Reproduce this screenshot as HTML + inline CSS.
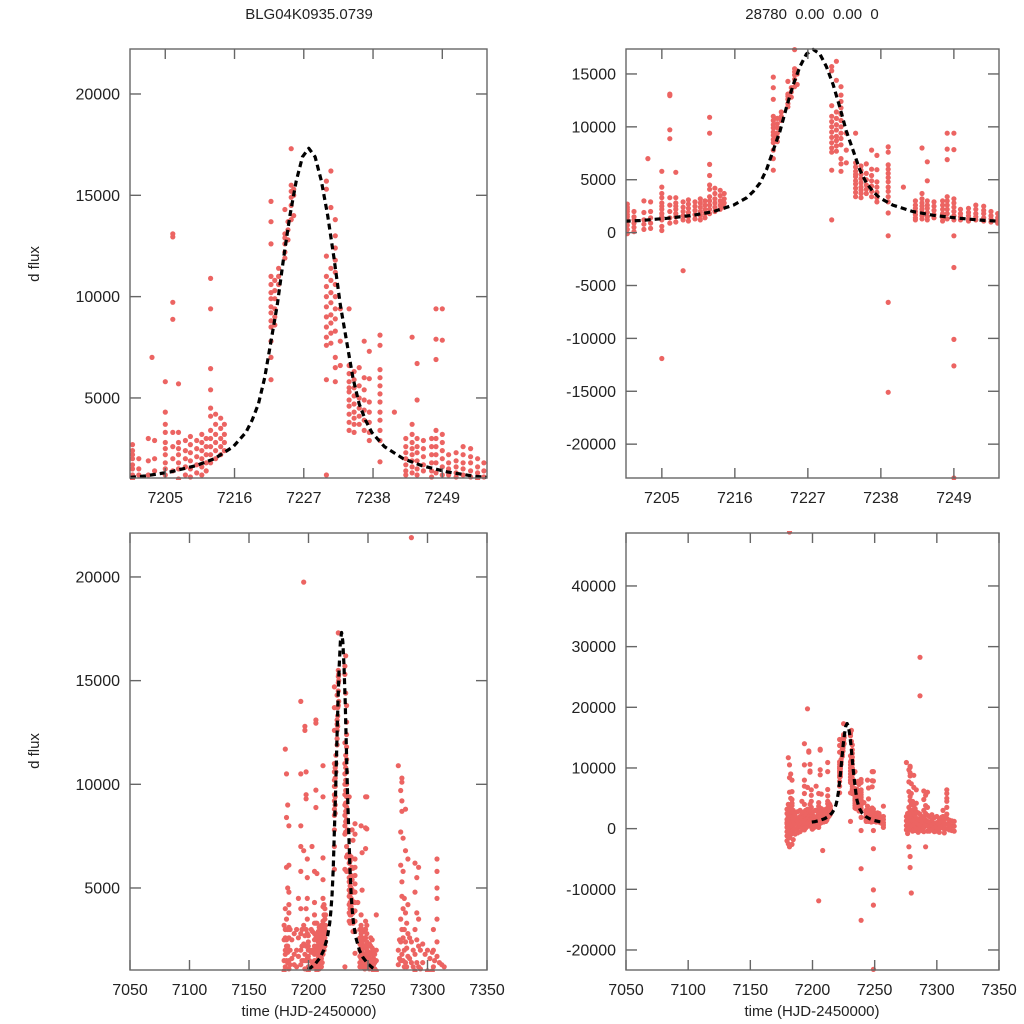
<!DOCTYPE html>
<html><head><meta charset="utf-8"><title>BLG04K0935.0739 light curve</title>
<style>
html,body{margin:0;padding:0;background:#fff;width:1024px;height:1024px;overflow:hidden;}
svg{display:block;font-family:"Liberation Sans",sans-serif;}
</style></head>
<body>
<svg id="fig" width="1024" height="1024" viewBox="0 0 1024 1024" xmlns="http://www.w3.org/2000/svg">
<rect width="1024" height="1024" fill="#fff"/>
<text x="309" y="19" font-size="15" text-anchor="middle" fill="#222">BLG04K0935.0739</text>
<text x="812" y="19" font-size="15" text-anchor="middle" fill="#222" xml:space="preserve">28780  0.00  0.00  0</text>
<text x="0" y="0" font-size="15" text-anchor="middle" fill="#222" transform="translate(39,264) rotate(-90)">d flux</text>
<text x="0" y="0" font-size="15" text-anchor="middle" fill="#222" transform="translate(39,751) rotate(-90)">d flux</text>
<text x="309" y="1016" font-size="15" text-anchor="middle" fill="#222">time (HJD-2450000)</text>
<text x="812" y="1016" font-size="15" text-anchor="middle" fill="#222">time (HJD-2450000)</text>
</svg>
<script>
// ---- observation data: one entry per night (time) with its flux measurements ----
const nightTimes = [7179.5,7180.5,7181.5,7182.5,7183.5,7184.5,7186,7188,7190,7191.5,7193.5,7194.5,7196,7197,7198,7199,
7199.8,7200.8,7202.3,7202.9,7203.3,7205.0,7206.2,7207.1,7208.2,7209,7210,7210.8,7211.5,7212.2,7213,7213.8,7214.4,
7221.8,7222.4,7223,7224,7224.5,7225,7225.4,7230.6,7231.3,7232.0,7232.8,7234.2,7235,7235.8,7236.6,7237.4,7239.1,7241.4,
7243.2,7244.2,7245,7246,7247.3,7248.0,7249.0,7250,7251.2,7252.3,7253.5,7254.6,7255.6,7257,
7275.5,7276.5,7277.5,7278.5,7279.5,7280.5,7281.5,7282.5,7283.5,7285,7286.5,7288,7289.5,7291,7292.5,7294,7296,7298,7300,7302,7304,7305,7306,7308,7310,7312,7314];
const nightFluxes = [
[2500,1500,800,200,-500,-1200,-2000,3200,1000],
[11700,4000,3000,2000,1200,500,-300,-1000,-2500,1800,2600],
[48900,10500,8400,6000,3500,2500,1500,800,0,-800,-1500,-3000,2200],
[9000,5000,3000,2200,1400,600,-200,-1000,1900],
[8000,6100,4800,4200,3800,3100,2600,2000,1500,1100,400,-400,-2600],
[3000,2000,1300,600,-300,-1800],
[2500,1600,800,0,-900],
[2800,1800,900,100,-700,1300],
[3000,2000,1200,400,-500],
[4500,2600,1700,900,200],
[14000,10500,8000,7000,5800,4000,2800,2000,1300,600,-200],
[3000,2200,1500,800,100],
[19750,6800,3200,2300,1500,900],
[12800,12600,2700,1800,1100,400],
[10600,9500,9300,4000,3000,2200,1500,900],
[6400,5500,4500,3500,2800,2200,1600,1100,600],
[2700,2400,2000,1700,1500,1200,1000,700,300,-100,2200],
[2000,1500,1200,900,500,100],
[3000,1900,1200,800,300],
[7000],
[2900,2000,1400,900,400],
[5800,4300,3700,3300,2800,2500,2200,1800,1500,1200,600,200,-11900],
[13100,12950,9720,8880,3300,2600,2000,1400,900],
[5700,3300,2800,2500,2200,1800,1500,1000],
[2900,2400,2000,1600,1200,-3600],
[3100,2700,2300,1900,1500,1100],
[2900,2500,2100,1700,1300],
[3200,2800,2400,2000,1600,1200],
[3000,2600,2200,1800,1400],
[10900,9400,6450,5400,4500,4100,3400,3000,2600,2200,1800],
[4200,3700,3200,2800,2400,2000],
[4000,3500,3000,2600,2200],
[3700,3200,2800,2400],
[14700,13700,12600,11000,10600,10200,9900,9500,9200,8800,8500,7800,7000,5900],
[10800,10300,9900,9400,9000,8600],
[11400,11000,10600],
[14300,13100,12900,12600,12200,11900],
[13700,13300,12800],
[17300,15500,15200,14900,14500,13800],
[15300,15000,14000],
[15700,15300,12000,11000,10500,10000,9500,9000,8500,8000,7600,5900,1200],
[16200,14400,11400,10800,10200,9700,9100,8700,8200,7700],
[13800,13000,12400,11800,11200,10600,10000,9400,8900,8300,7000,6500,5800],
[9400,7800,6600],
[9400,6600,6200,5800,5500,5300,4900,4600,4200,3800,3400],
[6300,5900,5500,5100,4700,4300,4000,3700,3300],
[6500,5600,5000,4500,4100,3700],
[7800,6000,5400,4900,4400,3900,3400],
[7300,5950,4800,4300,3800,3300,2900],
[8100,7600,6400,6000,5600,5200,4800,4300,3900,3400,2900,1850,-300,-6600,-15100],
[4300],
[3000,2600,2300,2000,1700,1400,1200],
[8000,3700,3200,2800,2500,2200,1900,1600,1300],
[6700,4900,3000,2600,2300,1900,1500,1200],
[2900,2500,2100,1700,1400],
[3000,2600,2200,1800,1400,1100],
[9400,7900,6900,3400,3000,2600,2200,1800,1300],
[9400,7850,3200,2800,2400,2000,1600,1200,-300,-3300,-10100,-12600,-23200],
[2200,1800,1500,1200],
[2300,1900,1600,1300,1100],
[2600,2200,1800,1500,1200],
[2500,2100,1800,1400,1100],
[2000,1600,1300,1000],
[1800,1400,1100,900],
[3700,2000,1500,1000,600,200],
[10900,2000,1300,500,-200],
[2500,1600,800,0,-800],
[9700,7700,6100,3500,2400,1500,700,-100,-3000],
[10300,10100,9200,8700,5300,4600,3000,1800,900,100,-4600,-6400],
[7400,5800,4000,2600,1500,700,-200,-10600],
[4500,3000,2000,1200,400,-400],
[8800,6800,3800,2400,1400,600,-200],
[3300,2100,1200,400,-300],
[6400,4200,2800,1700,900,100],
[2600,1600,800,0,-600],
[28250,21900,2400,1400,600,-200],
[2000,1200,500,-300],
[6200,4800,3000,1800,1000,200,-500],
[5500,3800,2500,1400,600,-3000],
[6000,3500,2200,1200,400,-400],
[2000,1100,300,-400],
[2300,1400,600,-200],
[1800,900,100,-500],
[2000,1000,300,-400],
[1600,800,0,-600],
[1900,1000,200],
[3000,2000,1200],
[1500,700,-100,-700],
[6400,5800,5000,4500,3500,2400,1700,800,0],
[1400,600,-200],
[1300,500,-300],
[1200,400,-400]
];
// ---- fitted model curve ----
const modelTimes = [7199.4,7201.8,7205.8,7209.8,7212.8,7215.8,7217.8,7218.8,7219.8,7220.8,7221.8,7222.8,7223.8,7224.8,7225.8,7226.8,7227.8,7228.8,7229.8,7230.8,7231.8,7232.8,7233.8,7234.8,7235.8,7236.8,7237.8,7239.8,7242.8,7245.8,7249.8,7253.8,7256.0];
const modelFlux  = [1080,1150,1350,1650,2000,2600,3300,3900,4700,6000,7800,9600,11900,14000,15700,16900,17320,16900,15700,14000,11900,9600,7800,6000,4700,3900,3300,2600,2000,1650,1350,1150,1080];
// ---- axis ticks ----
const xTicksZoom = [7205,7216,7227,7238,7249];
const xTicksFull = [7050,7100,7150,7200,7250,7300,7350];
const yTicksTL = [5000,10000,15000,20000];
const yTicksTR = [-20000,-15000,-10000,-5000,0,5000,10000,15000];
const yTicksBL = [5000,10000,15000,20000];
const yTicksBR = [-20000,-10000,0,10000,20000,30000,40000];

const panels = [
 {name:'top-left', x0:130,x1:487,y0:49,y1:478, xmin:7199.4,xmax:7256.1, ymin:1050,ymax:22220, xt:xTicksZoom, yt:yTicksTL},
 {name:'top-right', x0:626,x1:999,y0:49,y1:478, xmin:7199.6,xmax:7255.8, ymin:-23200,ymax:17360, xt:xTicksZoom, yt:yTicksTR},
 {name:'bottom-left', x0:130,x1:487,y0:533,y1:970, xmin:7050,xmax:7350, ymin:1045,ymax:22120, xt:xTicksFull, yt:yTicksBL},
 {name:'bottom-right', x0:626,x1:999,y0:533,y1:970, xmin:7050,xmax:7350, ymin:-23300,ymax:48730, xt:xTicksFull, yt:yTicksBR}
];
const NS='http://www.w3.org/2000/svg';
const svg=document.getElementById('fig');
function mk(tag,attrs,parent){const e=document.createElementNS(NS,tag);for(const k in attrs)e.setAttribute(k,attrs[k]);(parent||svg).appendChild(e);return e;}
const defs=mk('defs',{});
panels.forEach((p,i)=>{
  const sx=v=>p.x0+(v-p.xmin)/(p.xmax-p.xmin)*(p.x1-p.x0);
  const sy=v=>p.y1-(v-p.ymin)/(p.ymax-p.ymin)*(p.y1-p.y0);
  const tIn=t=>t>=p.xmin-0.3&&t<=p.xmax+0.3;
  const fIn=f=>{const s=(p.ymax-p.ymin)*0.006;return f>=p.ymin-s&&f<=p.ymax+s;};
  const cp=mk('clipPath',{id:'clip'+i},defs);
  mk('rect',{x:p.x0,y:p.y0-2,width:p.x1-p.x0,height:p.y1-p.y0+4},cp);
  const g=mk('g',{});
  
  
  const pts=mk('g',{'clip-path':'url(#clip'+i+')',fill:'#ec6462'},g);
  
  
  nightTimes.forEach((t,n)=>{
    if(!tIn(t)) return;
    nightFluxes[n].forEach(f=>{
      if(!fIn(f)) return;
      const c=mk('circle',{cx:sx(t).toFixed(1),cy:sy(f).toFixed(1),r:2.6},pts);
      
      
    });
  });
  const d=modelTimes.map((t,k)=>(k?'L':'M')+sx(t).toFixed(1)+','+sy(modelFlux[k]).toFixed(1)).join(' ');
  const path=mk('path',{d:d,fill:'none',stroke:'#000','stroke-width':3.2,'stroke-dasharray':'6,4','stroke-linejoin':'round','clip-path':'url(#clip'+i+')'},g);
  
  
  const ax=mk('g',{stroke:'#666','stroke-width':1.4,fill:'none'},g);
  
  
  mk('rect',{x:p.x0,y:p.y0,width:p.x1-p.x0,height:p.y1-p.y0},ax);
  p.xt.forEach(v=>{
    const x=sx(v);
    mk('line',{x1:x,y1:p.y1,x2:x,y2:p.y1-10},ax);
    mk('line',{x1:x,y1:p.y0,x2:x,y2:p.y0+10},ax);
    const tl=mk('text',{x:x,y:p.y1+25,'font-size':16,'text-anchor':'middle',fill:'#222',stroke:'none'},g);
    
    
    tl.textContent=v;
  });
  p.yt.forEach(v=>{
    const y=sy(v);
    mk('line',{x1:p.x0,y1:y,x2:p.x0+11,y2:y},ax);
    mk('line',{x1:p.x1,y1:y,x2:p.x1-11,y2:y},ax);
    const tl=mk('text',{x:p.x0-10,y:y+5.5,'font-size':16,'text-anchor':'end',fill:'#222',stroke:'none'},g);
    
    
    tl.textContent=v;
  });
});
</script>
</body></html>
